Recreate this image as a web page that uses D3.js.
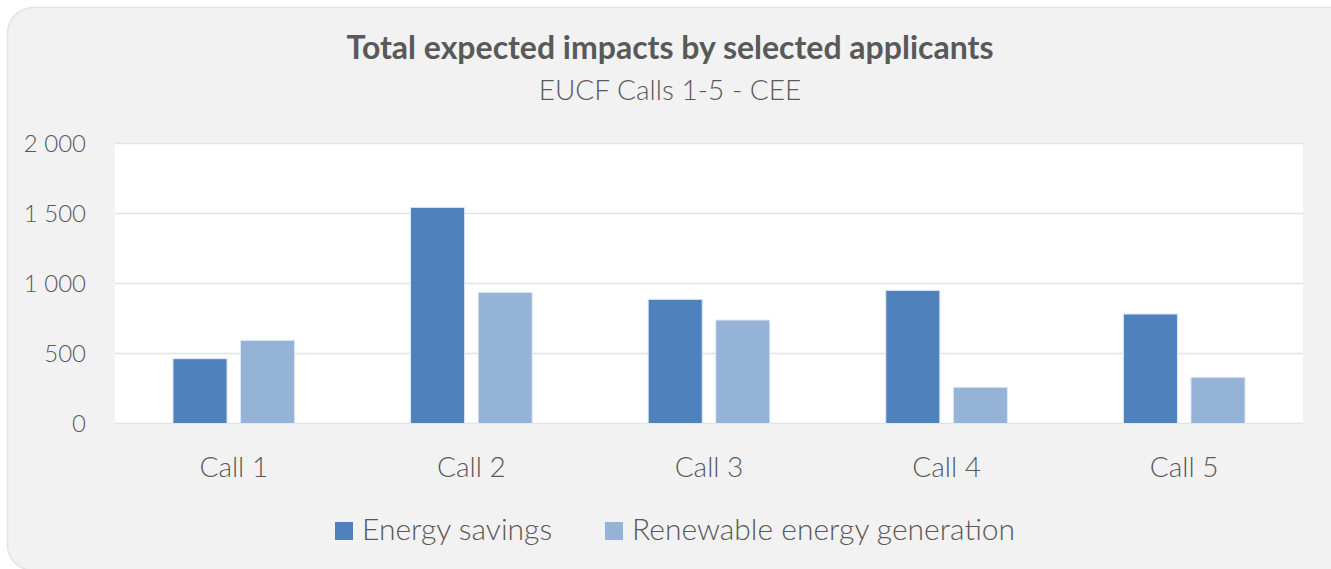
<!DOCTYPE html>
<html>
<head>
<meta charset="utf-8">
<script src="https://cdn.jsdelivr.net/npm/d3@7"></script>
<style>
  html, body { margin: 0; padding: 0; background: #ffffff; }
  svg { display: block; }
  text { font-family: "Source Sans Pro", Lato, "Open Sans", sans-serif; fill: #595959; }
</style>
</head>
<body>
<svg id="chart" width="1331" height="569"></svg>
<script>
const categories = ["Call 1", "Call 2", "Call 3", "Call 4", "Call 5"];
const seriesNames = ["Energy savings", "Renewable energy generation"];
const energySavings = [463, 1544, 887, 951, 782];
const renewableGeneration = [594, 937, 739, 259, 330];
const yTicks = [0, 500, 1000, 1500, 2000];
const titleText = "Total expected impacts by selected applicants";
const subtitleText = "EUCF Calls 1-5 - CEE";
const colors = ["#4f81bd", "#95b3d7"];

const svg = d3.select("#chart");
const W = 1331, H = 569;

// container
svg.append("rect")
  .attr("x", 7.5).attr("y", 7.5)
  .attr("width", W + 20).attr("height", H - 6)
  .attr("rx", 26).attr("ry", 26)
  .attr("fill", "#f2f2f2")
  .attr("stroke", "#e3e3e3").attr("stroke-width", 1.5);

const plot = { left: 115, right: 1303, top: 143.5, bottom: 423.5 };

svg.append("rect")
  .attr("x", plot.left).attr("y", plot.top)
  .attr("width", plot.right - plot.left).attr("height", plot.bottom - plot.top)
  .attr("fill", "#ffffff");

const x0 = d3.scaleBand().domain(categories).range([plot.left, plot.right]).padding(0);
const bw = x0.bandwidth();
const x1 = d3.scaleBand().domain(seriesNames).range([bw * 0.244, bw * 0.756]).paddingInner(0.2);
const y = d3.scaleLinear().domain([0, 2000]).range([plot.bottom, plot.top]);

// gridlines
svg.append("g").selectAll("line").data(yTicks).join("line")
  .attr("x1", plot.left).attr("x2", plot.right)
  .attr("y1", d => y(d)).attr("y2", d => y(d))
  .attr("stroke", "#e3e3e3").attr("stroke-width", 1.5);

// y axis labels
const yAxis = d3.axisLeft(y).tickValues(yTicks)
  .tickFormat(d => d3.format(",")(d).replace(/,/g, " "))
  .tickSize(0).tickPadding(0);
const gy = svg.append("g").attr("transform", `translate(86,0)`).call(yAxis);
gy.select(".domain").remove();
gy.selectAll("text")
  .style("font-family", '"Source Sans Pro", Lato, sans-serif')
  .style("font-weight", 300)
  .style("font-size", "24px")
  .attr("fill", "#595959")
  .attr("dy", "0.35em");

// bars
const data = categories.map((c, i) => ({ cat: c, values: [energySavings[i], renewableGeneration[i]] }));
const groups = svg.append("g").selectAll("g").data(data).join("g")
  .attr("transform", d => `translate(${x0(d.cat)},0)`);
groups.selectAll("rect")
  .data(d => d.values.map((v, j) => ({ name: seriesNames[j], v, j })))
  .join("rect")
  .attr("x", d => x1(d.name))
  .attr("width", x1.bandwidth())
  .attr("y", d => y(d.v))
  .attr("height", d => y(0) - y(d.v))
  .attr("fill", d => colors[d.j])
  .attr("stroke", "#dfe8f3").attr("stroke-width", 1);

// x axis labels
const xAxis = d3.axisBottom(x0).tickSize(0).tickPadding(0);
const gx = svg.append("g").attr("transform", `translate(0,${plot.bottom})`).call(xAxis);
gx.select(".domain").remove();
gx.selectAll("text")
  .style("font-family", '"Source Sans Pro", Lato, sans-serif')
  .style("font-weight", 300)
  .style("font-size", "28px")
  .attr("fill", "#595959")
  .attr("y", 53).attr("dy", 0);

// title
svg.append("text").attr("x", 670).attr("y", 59)
  .attr("text-anchor", "middle")
  .style("font-weight", 700).style("font-size", "32px")
  .text(titleText);
svg.append("text").attr("x", 670).attr("y", 100)
  .attr("text-anchor", "middle")
  .style("font-weight", 300).style("font-size", "28px")
  .text(subtitleText);

// legend
const legendX = [335, 605];
const lg = svg.append("g").selectAll("g").data(seriesNames).join("g")
  .attr("transform", (d, i) => `translate(${legendX[i]},522)`);
lg.append("rect").attr("width", 18).attr("height", 18).attr("fill", (d, i) => colors[i]);
lg.append("text").attr("x", 27).attr("y", 18)
  .style("font-weight", 300).style("font-size", "30px")
  .text(d => d);
</script>
</body>
</html>
